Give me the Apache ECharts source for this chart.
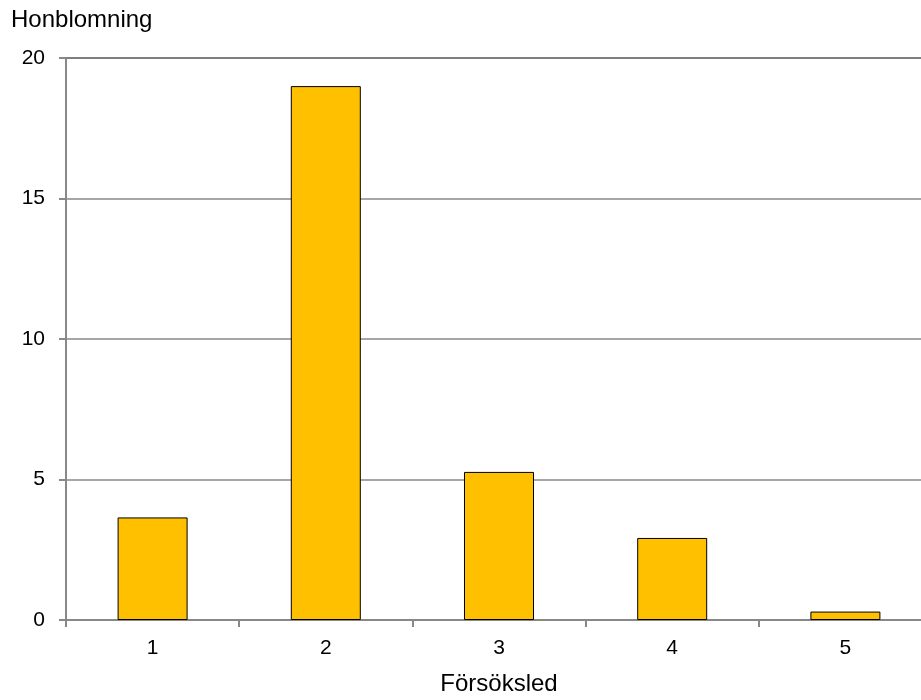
<!DOCTYPE html>
<html>
<head>
<meta charset="utf-8">
<script src="https://cdn.jsdelivr.net/npm/echarts@6/dist/echarts.min.js"></script>
<style>
  html, body { margin: 0; padding: 0; background: #fff; }
  #chart { width: 921px; height: 700px; }
</style>
</head>
<body>
<div id="chart"></div>
<script>
// Honblomning per försöksled
const categories = ['1', '2', '3', '4', '5'];
const honblomning = [3.65, 19.0, 5.27, 2.92, 0.3];
const yTicks = { min: 0, max: 20, interval: 5 };

const chart = echarts.init(document.getElementById('chart'));
const font = 'Liberation Sans, Arial, sans-serif';

// plot area runs slightly past the right edge of the canvas
const gridLeft = 66, gridWidth = 866;

chart.setOption({
  animation: false,
  backgroundColor: '#ffffff',
  grid: {
    left: gridLeft, top: 58, width: gridWidth, bottom: 80,
    show: true, borderColor: '#333333', borderWidth: 1.5,
    containLabel: false,
    outerBoundsMode: 'none'
  },
  xAxis: {
    type: 'category',
    data: categories,
    axisLine: { lineStyle: { color: '#888888', width: 2 } },
    axisTick: { show: true, length: 7, lineStyle: { color: '#888888', width: 2 } },
    axisLabel: { color: '#000', fontFamily: font, fontSize: 21, margin: 18 },
    splitLine: { show: false }
  },
  yAxis: {
    type: 'value',
    min: yTicks.min, max: yTicks.max, interval: yTicks.interval,
    axisLine: { show: true, lineStyle: { color: '#888888', width: 2 } },
    axisTick: { show: true, length: 7, lineStyle: { color: '#888888', width: 2 } },
    axisLabel: { color: '#000', fontFamily: font, fontSize: 21, margin: 21 },
    splitLine: { show: true, lineStyle: { color: '#888888', width: 1.5 } }
  },
  series: [{
    type: 'bar',
    data: honblomning,
    barWidth: 70,
    itemStyle: { color: '#FFC000', borderColor: '#000000', borderWidth: 1 }
  }],
  graphic: [
    {
      type: 'text', left: 11, top: 8,
      style: { text: 'Honblomning', fontFamily: font, fontSize: 24, fill: '#000' }
    },
    {
      type: 'text', x: gridLeft + gridWidth / 2, y: 684,
      style: { text: 'Försöksled', fontFamily: font, fontSize: 24, fill: '#000',
               textAlign: 'center', textVerticalAlign: 'middle' }
    }
  ]
});
</script>
</body>
</html>
